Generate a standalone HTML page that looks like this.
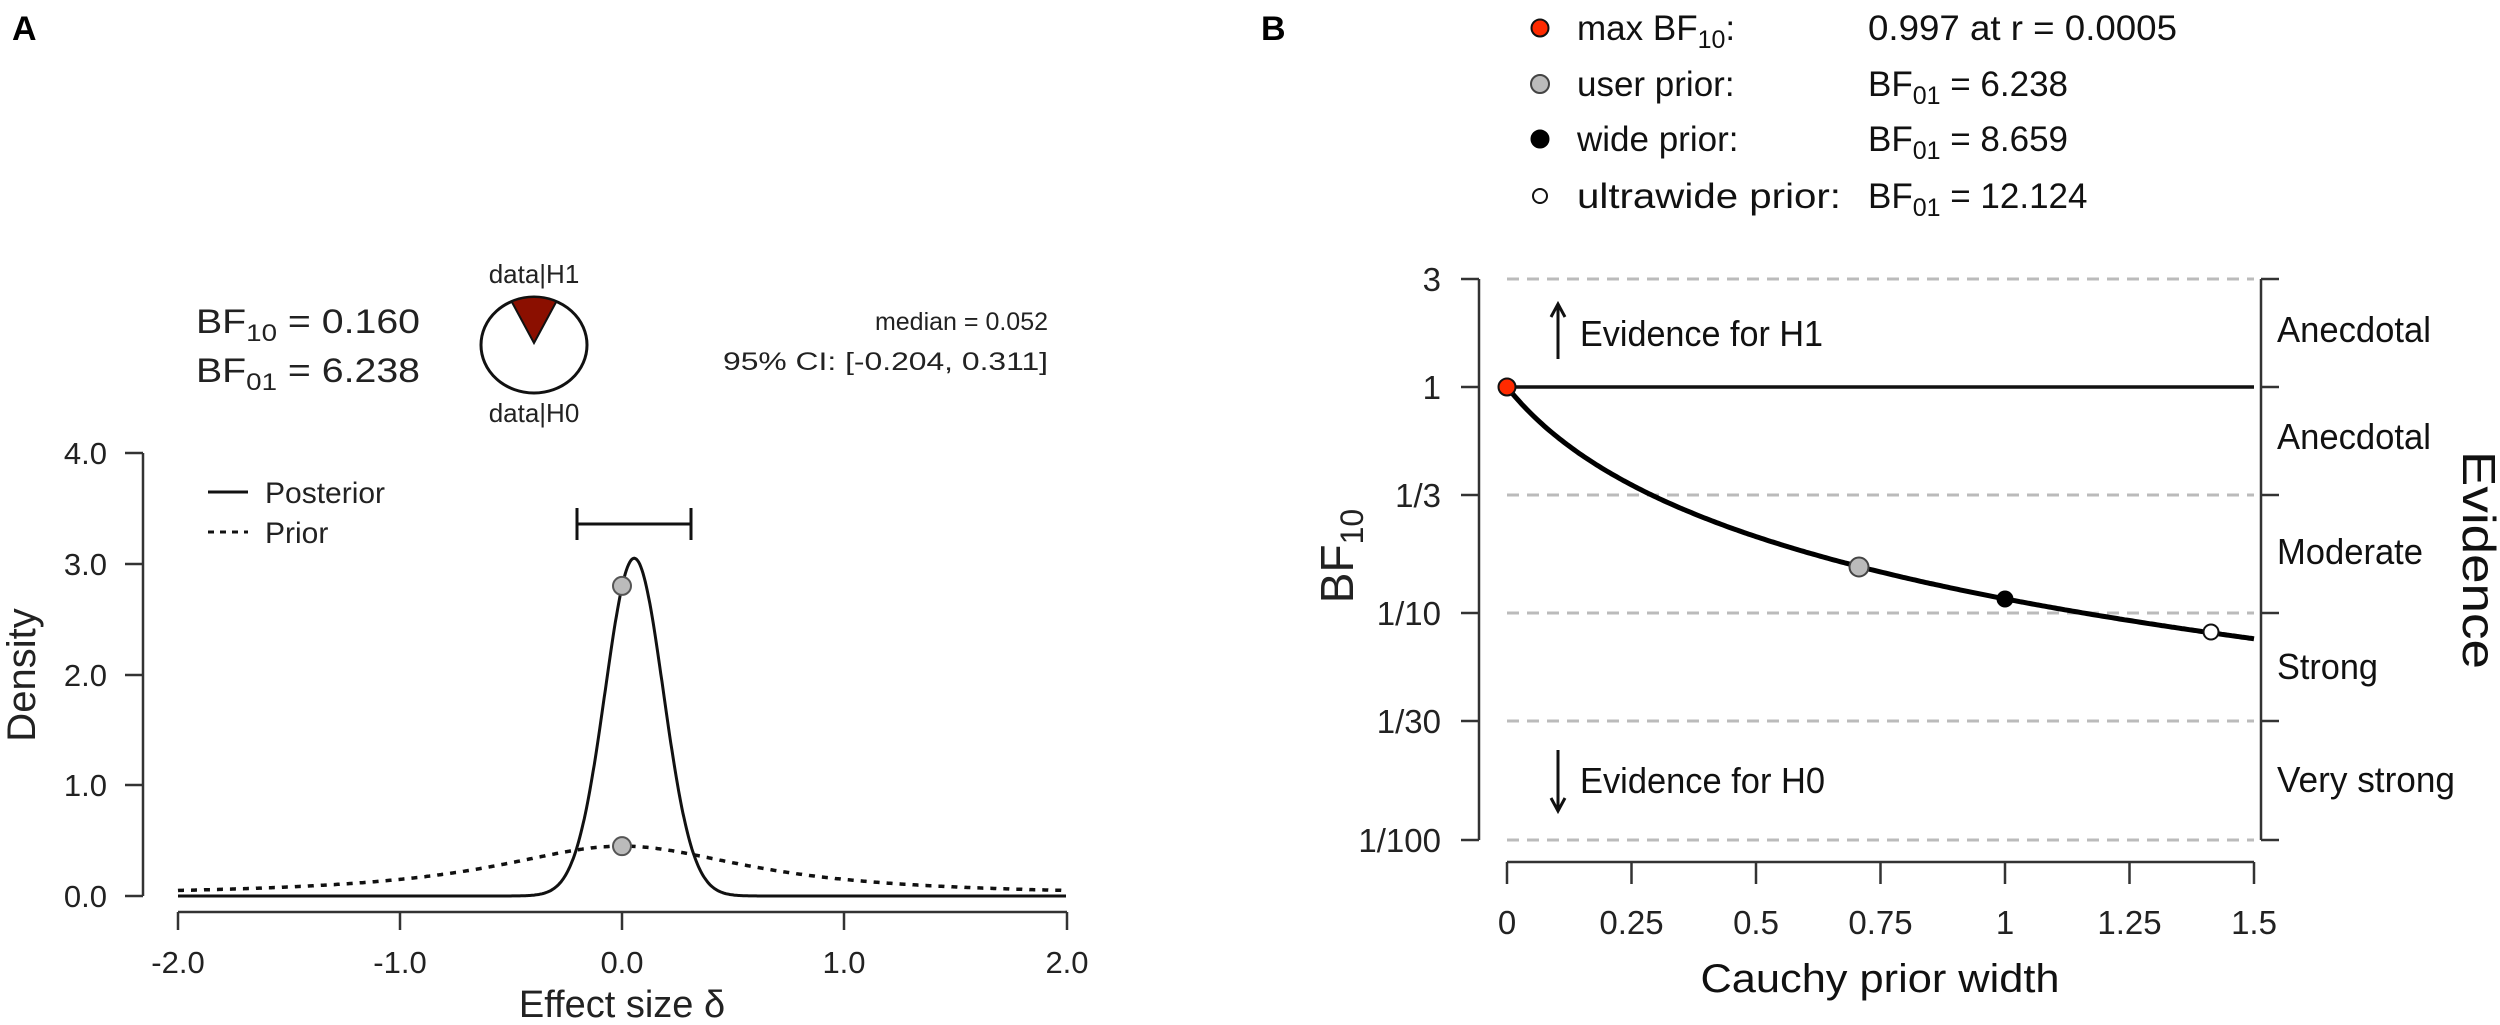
<!DOCTYPE html>
<html><head><meta charset="utf-8"><style>
html,body{margin:0;padding:0;background:#fff;}
svg{display:block;font-family:"Liberation Sans",Arial,sans-serif;}
</style></head><body>
<svg id="s" width="2500" height="1025" viewBox="0 0 2500 1025" xmlns="http://www.w3.org/2000/svg">
<rect width="2500" height="1025" fill="#fff"/>
<text x="12" y="40" font-size="34" font-weight="bold">A</text>
<text x="1261" y="40" font-size="34" font-weight="bold">B</text>

<g fill="#222">
<text x="196" y="333" font-size="34" textLength="224" lengthAdjust="spacingAndGlyphs">BF<tspan font-size="24" dy="8">10</tspan><tspan dy="-8"> = 0.160</tspan></text>
<text x="196" y="382" font-size="34" textLength="224" lengthAdjust="spacingAndGlyphs">BF<tspan font-size="24" dy="8">01</tspan><tspan dy="-8"> = 6.238</tspan></text>
<text x="534" y="283" font-size="26" text-anchor="middle">data|H1</text>
<text x="534" y="422" font-size="26" text-anchor="middle">data|H0</text>
<text x="1048" y="330" font-size="25" text-anchor="end">median = 0.052</text>
<text x="1048" y="370" font-size="25" text-anchor="end" textLength="325" lengthAdjust="spacingAndGlyphs">95% CI: [-0.204, 0.311]</text>
</g>
<ellipse cx="534" cy="345" rx="53" ry="48" fill="#fff" stroke="#111" stroke-width="3"/>
<path id="wedge" fill="#8b0f00" stroke="#111" stroke-width="2"/>

<g stroke="#333" stroke-width="2.5" fill="none">
<path d="M143,453 V896"/>
<path d="M125,453 H143 M125,564 H143 M125,675 H143 M125,785 H143 M125,896 H143"/>
<path d="M178,912 H1067 M178,912 V930 M400,912 V930 M622,912 V930 M844,912 V930 M1067,912 V930"/>
</g>
<g font-size="31" fill="#222" text-anchor="end">
<text x="107" y="464">4.0</text><text x="107" y="575">3.0</text><text x="107" y="686">2.0</text><text x="107" y="796">1.0</text><text x="107" y="907">0.0</text>
</g>
<g font-size="31" fill="#222" text-anchor="middle">
<text x="178" y="973">-2.0</text><text x="400" y="973">-1.0</text><text x="622" y="973">0.0</text><text x="844" y="973">1.0</text><text x="1067" y="973">2.0</text>
</g>
<text x="622" y="1017" font-size="38" text-anchor="middle" fill="#222">Effect size δ</text>
<text transform="translate(35,675) rotate(-90)" font-size="40" text-anchor="middle" fill="#222">Density</text>
<path d="M208,492 H248" stroke="#111" stroke-width="3"/>
<path d="M208,532 H248" stroke="#111" stroke-width="3" stroke-dasharray="6,6"/>
<text x="265" y="503" font-size="30" fill="#222">Posterior</text>
<text x="265" y="543" font-size="30" fill="#222">Prior</text>
<path d="M577,524 H691 M577,508 V540 M691,508 V540" stroke="#111" stroke-width="3" fill="none"/>
<path id="prior" fill="none" stroke="#111" stroke-width="3.5" stroke-dasharray="6,7"/>
<path id="post" fill="none" stroke="#111" stroke-width="3"/>
<circle id="d1" r="9" fill="#bbb" stroke="#555" stroke-width="2"/>
<circle id="d2" r="9" fill="#bbb" stroke="#555" stroke-width="2"/>

<circle cx="1540" cy="28" r="8.5" fill="#ff2a00" stroke="#111" stroke-width="2"/>
<circle cx="1540" cy="84" r="9" fill="#bbb" stroke="#444" stroke-width="2"/>
<circle cx="1540" cy="139" r="8.5" fill="#000" stroke="#000" stroke-width="2"/>
<circle cx="1540" cy="196" r="7" fill="#fff" stroke="#111" stroke-width="2"/>
<g font-size="35" fill="#111">
<text x="1577" y="40">max BF<tspan font-size="25" dy="8">10</tspan><tspan dy="-8">:</tspan></text>
<text x="1577" y="96">user prior:</text>
<text x="1577" y="151">wide prior:</text>
<text x="1577" y="208" textLength="264" lengthAdjust="spacingAndGlyphs">ultrawide prior:</text>
<text x="1868" y="40" textLength="309" lengthAdjust="spacingAndGlyphs">0.997 at r = 0.0005</text>
<text x="1868" y="96">BF<tspan font-size="25" dy="8">01</tspan><tspan dy="-8"> = 6.238</tspan></text>
<text x="1868" y="151">BF<tspan font-size="25" dy="8">01</tspan><tspan dy="-8"> = 8.659</tspan></text>
<text x="1868" y="208">BF<tspan font-size="25" dy="8">01</tspan><tspan dy="-8"> = 12.124</tspan></text>
</g>
<g stroke="#bbb" stroke-width="3" stroke-dasharray="12,8">
<path d="M1507,279 H2254 M1507,495 H2254 M1507,613 H2254 M1507,721 H2254 M1507,840 H2254"/>
</g>
<path d="M1507,387 H2254" stroke="#111" stroke-width="3.5"/>
<g stroke="#333" stroke-width="2.5" fill="none">
<path d="M1479,279 V840 M1461,279 H1479 M1461,387 H1479 M1461,495 H1479 M1461,613 H1479 M1461,721 H1479 M1461,840 H1479"/>
<path d="M2261,279 V840 M2261,279 H2279 M2261,387 H2279 M2261,495 H2279 M2261,613 H2279 M2261,721 H2279 M2261,840 H2279"/>
<path d="M1507,862 H2254 M1507,862 V884 M1631.5,862 V884 M1756,862 V884 M1880.5,862 V884 M2005,862 V884 M2129.5,862 V884 M2254,862 V884"/>
</g>
<g font-size="33" fill="#222" text-anchor="end">
<text x="1441" y="291">3</text><text x="1441" y="399">1</text><text x="1441" y="507">1/3</text><text x="1441" y="625">1/10</text><text x="1441" y="733">1/30</text><text x="1441" y="852">1/100</text>
</g>
<g font-size="33" fill="#222" text-anchor="middle">
<text x="1507" y="934">0</text><text x="1631.5" y="934">0.25</text><text x="1756" y="934">0.5</text><text x="1880.5" y="934">0.75</text><text x="2005" y="934">1</text><text x="2129.5" y="934">1.25</text><text x="2254" y="934">1.5</text>
</g>
<text x="1880" y="992" font-size="40" text-anchor="middle" fill="#111" textLength="359" lengthAdjust="spacingAndGlyphs">Cauchy prior width</text>
<text transform="translate(1353,556) rotate(-90)" font-size="46" text-anchor="middle" fill="#222">BF<tspan font-size="32" dy="10">10</tspan></text>
<g font-size="36" fill="#111">
<text x="2277" y="342" textLength="154" lengthAdjust="spacingAndGlyphs">Anecdotal</text>
<text x="2277" y="449" textLength="154" lengthAdjust="spacingAndGlyphs">Anecdotal</text>
<text x="2277" y="564" textLength="146" lengthAdjust="spacingAndGlyphs">Moderate</text>
<text x="2277" y="679" textLength="101" lengthAdjust="spacingAndGlyphs">Strong</text>
<text x="2277" y="792" textLength="178" lengthAdjust="spacingAndGlyphs">Very strong</text>
<text x="1580" y="346" textLength="243" lengthAdjust="spacingAndGlyphs">Evidence for H1</text>
<text x="1580" y="793" textLength="245" lengthAdjust="spacingAndGlyphs">Evidence for H0</text>
</g>
<text transform="translate(2463,560) rotate(90)" font-size="46" text-anchor="middle" fill="#111" textLength="218" lengthAdjust="spacingAndGlyphs">Evidence</text>
<g stroke="#111" stroke-width="3" fill="none">
<path d="M1558,359 V306 M1551,317 L1558,304 L1565,317"/>
<path d="M1558,750 V809 M1551,798 L1558,811 L1565,798"/>
</g>
<path id="bfc" fill="none" stroke="#000" stroke-width="5"/>
<circle cx="1507" cy="387" r="8.5" fill="#ff2a00" stroke="#111" stroke-width="2"/>
<circle cx="1859" cy="567" r="9.5" fill="#bbb" stroke="#444" stroke-width="2"/>
<circle cx="2005" cy="599" r="8.5" fill="#000"/>
<circle cx="2211" cy="632" r="7.5" fill="#fff" stroke="#111" stroke-width="2"/>
</svg>
<script>
(function(){
var X=function(v){return 622+222*v;}, Y=function(d){return 896-110.75*d;};
var p="",q="";
for(var i=0;i<=800;i++){var v=-2+4*i/800;
 var pr=1/(Math.PI*0.707*(1+(v/0.707)*(v/0.707)));
 var po=3.05*Math.exp(-0.5*Math.pow((v-0.055)/0.131,2));
 p+=(i?"L":"M")+X(v).toFixed(1)+","+Y(pr).toFixed(1);
 q+=(i?"L":"M")+X(v).toFixed(1)+","+Y(po).toFixed(1);}
document.getElementById("prior").setAttribute("d",p);
document.getElementById("post").setAttribute("d",q);
var d1=document.getElementById("d1");d1.setAttribute("cx",622);d1.setAttribute("cy",Y(2.8));
var d2=document.getElementById("d2");d2.setAttribute("cx",622);d2.setAttribute("cy",Y(0.45));
var cx=534,cy=345,rx=53,ry=48,a=25*Math.PI/180;
var x1=cx-rx*Math.sin(a),y1=cy-ry*Math.cos(a),x2=cx+rx*Math.sin(a);
document.getElementById("wedge").setAttribute("d","M"+cx+","+(cy-2)+"L"+x1+","+y1+"A"+rx+","+ry+" 0 0 1 "+x2+","+y1+"Z");
var s="";
for(var j=0;j<=300;j++){var r=1.5*j/300;var f=1.153*Math.log10(1+5.5*r);
 s+=(j?"L":"M")+(1507+498*r).toFixed(1)+","+(387+226*f).toFixed(1);}
document.getElementById("bfc").setAttribute("d",s);
})();
</script>
</body></html>
